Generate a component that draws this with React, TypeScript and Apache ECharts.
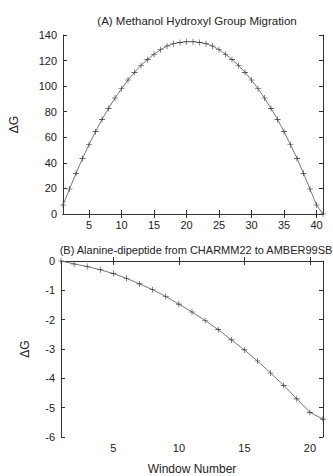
import React, { useEffect, useRef } from "react";
import * as echarts from "echarts";

const titleA = "(A) Methanol Hydroxyl Group Migration";
const titleB = "(B) Alanine-dipeptide from CHARMM22 to AMBER99SB";
const yName = "ΔG";
const xName = "Window Number";

const windowsA = [1,2,3,4,5,6,7,8,9,10,11,12,13,14,15,16,17,18,19,20,21,22,23,24,25,26,27,28,29,30,31,32,33,34,35,36,37,38,39,40,41];
const dGA = [7.0,19.5,31.8,43.5,54.2,64.4,74.0,82.6,90.7,98.0,104.8,110.8,116.2,120.9,125.0,128.5,131.4,133.2,134.2,134.7,134.7,134.2,133.2,131.4,128.5,125.0,120.9,116.2,110.8,104.8,98.0,90.7,82.6,74.0,64.4,54.2,43.5,31.8,19.5,7.0,0];

const windowsB = [1,2,3,4,5,6,7,8,9,10,11,12,13,14,15,16,17,18,19,20,21];
const dGB = [0,-0.1,-0.19,-0.3,-0.43,-0.59,-0.78,-0.98,-1.21,-1.47,-1.74,-2.03,-2.34,-2.69,-3.03,-3.41,-3.82,-4.24,-4.7,-5.16,-5.39];

const xTicksA = [5,10,15,20,25,30,35,40];
const xTicksB = [5,10,15,20];

const plus = "path://M4.5,0h1v4.5h4.5v1h-4.5v4.5h-1v-4.5h-4.5v-1h4.5z";

export default function App() {
  const ref = useRef<HTMLDivElement>(null);
  useEffect(() => {
    if (!ref.current) return;
    const chart = echarts.init(ref.current, null, { renderer: "svg" });
    const axisColor = "#333";
    const font = "Liberation Sans, Arial, sans-serif";
    const lbl = { color: "#222", fontSize: 11, fontFamily: font };
    const mkX = (gi: number, min: number, max: number, ticks: number[], pos: string, show: boolean, name?: string) => ({
      type: "value", gridIndex: gi, min, max, position: pos,
      axisLine: { show: true, lineStyle: { color: axisColor, width: 1 } },
      axisTick: { show: true, inside: true, length: 4, customValues: ticks, lineStyle: { color: axisColor } },
      axisLabel: { show, customValues: ticks, margin: 5, ...lbl },
      splitLine: { show: false },
      name: name || "", nameLocation: "middle", nameGap: 26,
      nameTextStyle: { color: "#222", fontSize: 12, fontFamily: font },
    });
    const mkY = (gi: number, min: number, max: number, interval: number, pos: string, show: boolean, gap: number) => ({
      type: "value", gridIndex: gi, min, max, interval, position: pos,
      axisLine: { show: true, lineStyle: { color: axisColor, width: 1 } },
      axisTick: { show: true, inside: true, length: 4, lineStyle: { color: axisColor } },
      axisLabel: { show, margin: 6, ...lbl },
      splitLine: { show: false },
      name: show ? yName : "", nameLocation: "middle", nameGap: gap, nameRotate: 90,
      nameTextStyle: { color: "#222", fontSize: 12, fontFamily: font },
    });
    const series = (xi: number, yi: number, xs: number[], ys: number[]) => ({
      type: "line", xAxisIndex: xi, yAxisIndex: yi,
      data: xs.map((x, i) => [x, ys[i]]),
      lineStyle: { color: "#777", width: 1 },
      itemStyle: { color: "#333" },
      symbol: plus, symbolSize: 6, showSymbol: true,
    });
    const tStyleA = { fontSize: 11.5, fontWeight: "normal", color: "#222", fontFamily: font };
    const tStyleB = { fontSize: 11, fontWeight: "normal", color: "#222", fontFamily: font };
    chart.setOption({
      animation: false,
      backgroundColor: "#fff",
      title: [
        { text: titleA, left: 192, top: 10, textAlign: "center", textStyle: tStyleA },
        { text: titleB, left: 191, top: 239, textAlign: "center", textStyle: tStyleB },
      ],
      grid: [
        { left: 61, top: 35, width: 262, height: 179 },
        { left: 61, top: 261, width: 262, height: 180 },
      ],
      xAxis: [
        mkX(0, 1, 41, xTicksA, "bottom", true),
        mkX(0, 1, 41, xTicksA, "top", false),
        mkX(1, 1, 21, xTicksB, "bottom", true, xName),
        mkX(1, 1, 21, xTicksB, "top", false),
      ],
      yAxis: [
        mkY(0, 0, 140, 20, "left", true, 43),
        mkY(0, 0, 140, 20, "right", false, 0),
        mkY(1, -6, 0, 1, "left", true, 30),
        mkY(1, -6, 0, 1, "right", false, 0),
      ],
      series: [series(0, 0, windowsA, dGA), series(2, 2, windowsB, dGB)],
    });
    return () => chart.dispose();
  }, []);
  return <div ref={ref} style={{ position: "fixed", left: 0, top: 0, width: 333, height: 476 }} />;
}
